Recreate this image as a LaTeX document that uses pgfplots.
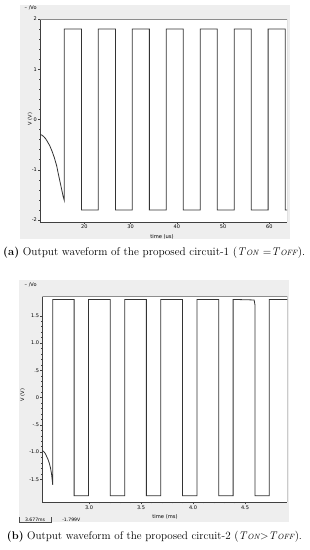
\documentclass[border=0pt]{standalone}
\usepackage{pgfplots}
\pgfplotsset{compat=1.18}
\usepackage{fontspec}
\newfontfamily\dejavu{DejaVu Sans}
\definecolor{panelgray}{HTML}{EEEEEE}
\definecolor{trace}{HTML}{333333}
\pgfplotsset{
  scopestyle/.style={
    scale only axis,
    axis background/.style={fill=white},
    axis x line*=bottom, axis y line*=left,
    axis line style={draw=black!75, line width=0.5pt},
    tick align=outside,
    major tick length=2pt, minor tick length=1pt,
    tick style={draw=black!75, line width=0.4pt},
    minor tick num=4,
    /pgf/number format/assume math mode=true,
    ticklabel style={font=\dejavu\fontsize{5}{6}\selectfont, inner sep=1pt},
    clip=true,
  }
}
\begin{document}
\begin{tikzpicture}[x=1pt,y=1pt]
\useasboundingbox (0,0) rectangle (309,550);
\fill[panelgray] (20,311) rectangle (290,545);
\fill[panelgray] (19.3,28) rectangle (289.3,270);
% ---------- panel (a)
\begin{axis}[scopestyle,
  at={(40pt,328pt)}, anchor=south west, width=247pt, height=203pt,
  xmin=10.4, xmax=63.8, ymin=-2.04, ymax=2.0,
  xtick={20,30,40,50,60}, xticklabels={20,30,40,50,60},
  ytick={-2,-1,0,1,2}, yticklabels={-2,-1,0,1,2},
]
\addplot[trace, line width=0.8pt] coordinates {
(10.4,-0.30) (10.8,-0.31) (11.2,-0.34) (11.6,-0.38) (12.0,-0.44) (12.5,-0.52)
(13.0,-0.63) (13.5,-0.76) (14.0,-0.92) (14.4,-1.10) (14.8,-1.27) (15.1,-1.40)
(15.4,-1.53) (15.65,-1.61)
(15.65,1.8) (19.37,1.8) (19.37,-1.8) (23.0,-1.8) (23.0,1.8) (26.71,1.8) (26.71,-1.8)
(30.36,-1.8) (30.36,1.8) (34.05,1.8) (34.05,-1.8) (37.70,-1.8) (37.70,1.8)
(41.37,1.8) (41.37,-1.8) (45.04,-1.8) (45.04,1.8) (48.73,1.8) (48.73,-1.8)
(52.38,-1.8) (52.38,1.8) (56.05,1.8) (56.05,-1.8) (59.72,-1.8) (59.72,1.8)
(63.41,1.8) (63.41,-1.8) (63.8,-1.8)
};
\draw[black!45, line width=0.4pt] (rel axis cs:0,1) -- (rel axis cs:1,1) -- (rel axis cs:1,0);
\end{axis}
% ---------- panel (b)
\begin{axis}[scopestyle,
  at={(42.3pt,47.7pt)}, anchor=south west, width=245pt, height=205.6pt,
  xmin=2.551, xmax=4.907, ymin=-1.92, ymax=1.85,
  xtick={3.0,3.5,4.0,4.5}, xticklabels={3.0,3.5,4.0,4.5},
  ytick={-1.5,-1,-0.5,0,0.5,1,1.5}, yticklabels={-1.5,-1.0,-.5,0,.5,1.0,1.5},
]
\addplot[trace, line width=0.8pt] coordinates {
(2.551,-0.97) (2.565,-0.99) (2.578,-1.02) (2.593,-1.08) (2.605,-1.13) (2.618,-1.20)
(2.630,-1.29) (2.640,-1.40) (2.647,-1.52) (2.651,-1.60)
(2.651,1.8) (2.857,1.8) (2.857,-1.8) (2.996,-1.8) (2.996,1.8) (3.205,1.8) (3.205,-1.8)
(3.343,-1.8) (3.343,1.8) (3.552,1.8) (3.552,-1.8) (3.691,-1.8) (3.691,1.8)
(3.900,1.8) (3.900,-1.8) (4.039,-1.8) (4.039,1.8) (4.248,1.8) (4.248,-1.8)
(4.386,-1.8) (4.386,1.8) (4.588,1.79) (4.596,1.70) (4.596,-1.8) (4.734,-1.8) (4.734,1.8)
(4.907,1.8)
};
\draw[black!45, line width=0.4pt] (rel axis cs:0,1) -- (rel axis cs:1,1) -- (rel axis cs:1,0);
\end{axis}
% ---------- labels
\node[font=\dejavu\fontsize{5}{6}\selectfont, rotate=90] at (30,431) {V (V)};
\node[font=\dejavu\fontsize{5}{6}\selectfont, rotate=90] at (22.5,155) {V (V)};
\node[font=\dejavu\fontsize{5.2}{6}\selectfont] at (162,313) {time (us)};
\node[font=\dejavu\fontsize{5.2}{6}\selectfont] at (165,33) {time (ms)};
\node[font=\dejavu\fontsize{5}{6}\selectfont, anchor=west, inner sep=0] at (24.5,541.7) {– /Vo};
\node[font=\dejavu\fontsize{5}{6}\selectfont, anchor=west, inner sep=0] at (24.5,265) {– /Vo};
% cursor readout
\draw[black!70, line width=0.4pt] (19.5,33) -- (19.5,27.7) -- (50.7,27.7) -- (50.7,33);
\node[font=\dejavu\fontsize{4.6}{5}\selectfont, inner sep=0] at (35.1,30.6) {3.677ms};
\node[font=\dejavu\fontsize{4.6}{5}\selectfont, inner sep=0] at (71.3,30.6) {-1.799V};
% captions
\node[inner sep=0] at (154.2,297) {\resizebox{302pt}{!}{\fontsize{11}{13}\selectfont\textbf{(a)} Output waveform of the proposed circuit-1 (\textit{T}{\fontsize{7.5}{8}\selectfont\textit{ON}}~=\textit{T}{\fontsize{7.5}{8}\selectfont\textit{OFF}}).}};
\node[inner sep=0] at (154.5,13) {\resizebox{295pt}{!}{\fontsize{11}{13}\selectfont\textbf{(b)} Output waveform of the proposed circuit-2 (\textit{T}{\fontsize{7.5}{8}\selectfont\textit{ON}}{>}\textit{T}{\fontsize{7.5}{8}\selectfont\textit{OFF}}).}};
\end{tikzpicture}
\end{document}
